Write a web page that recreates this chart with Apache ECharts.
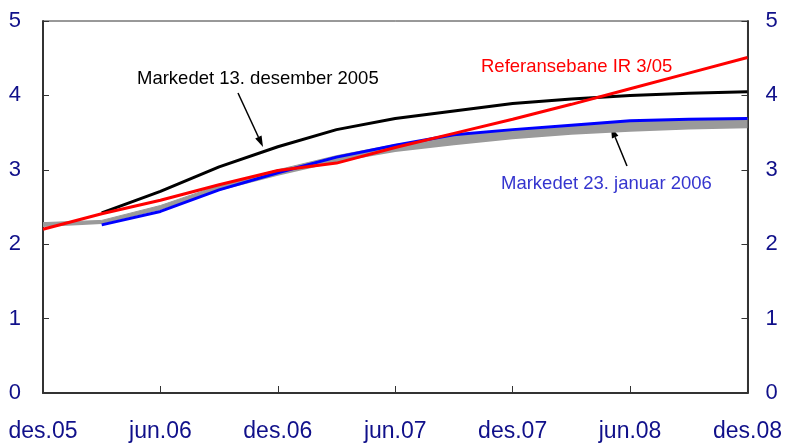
<!DOCTYPE html>
<html>
<head>
<meta charset="utf-8">
<script src="https://cdn.jsdelivr.net/npm/echarts@6/dist/echarts.min.js"></script>
<style>
  html, body { margin: 0; padding: 0; background: #fff; }
  #chart { width: 785px; height: 443px; }
</style>
</head>
<body>
<div id="chart"></div>
<script>
  // kvartalsvise observasjoner
  var categories = ['des.05', 'mar.06', 'jun.06', 'sep.06', 'des.06', 'mar.07', 'jun.07',
    'sep.07', 'des.07', 'mar.08', 'jun.08', 'sep.08', 'des.08'];
  var yTicks = [0, 1, 2, 3, 4, 5];

  var referansebane = [2.20, 2.41, 2.59, 2.80, 2.99, 3.09, 3.30, 3.49, 3.68, 3.88, 4.09, 4.30, 4.51];
  var marked13des = [null, 2.42, 2.71, 3.04, 3.31, 3.54, 3.69, 3.79, 3.89, 3.95, 4.00, 4.03, 4.05];
  var marked23jan = [null, 2.26, 2.44, 2.73, 2.96, 3.17, 3.33, 3.47, 3.54, 3.60, 3.66, 3.68, 3.69];
  var grayLow = [2.23, 2.27, 2.46, 2.72, 2.92, 3.10, 3.24, 3.33, 3.41, 3.47, 3.51, 3.54, 3.56];
  var grayHigh = [2.29, 2.32, 2.52, 2.79, 3.00, 3.19, 3.34, 3.46, 3.54, 3.60, 3.65, 3.67, 3.69];

  var grayDiff = grayHigh.map(function (v, i) { return +(v - grayLow[i]).toFixed(3); });

  var labelColor = '#10108a';
  var axisColor = '#333';
  var font = '"Liberation Sans", Arial, sans-serif';

  // pil: linje + trekant ved spissen
  function arrow(x1, y1, x2, y2) {
    var ang = Math.atan2(y2 - y1, x2 - x1);
    var len = 11, half = 3.5;
    var bx = x2 - len * Math.cos(ang), by = y2 - len * Math.sin(ang);
    var px = -Math.sin(ang) * half, py = Math.cos(ang) * half;
    return [
      { type: 'line', shape: { x1: x1, y1: y1, x2: bx, y2: by }, style: { stroke: '#000', lineWidth: 1.5 } },
      { type: 'polygon', shape: { points: [[x2, y2], [bx + px, by + py], [bx - px, by - py]] }, style: { fill: '#000' } }
    ];
  }

  var yAxisBase = {
    type: 'value',
    min: 0,
    max: 5,
    interval: 1,
    splitLine: { show: false },
    axisLine: { show: true, lineStyle: { color: axisColor, width: 2 } },
    axisTick: { show: true, inside: true, length: 6, lineStyle: { color: axisColor } },
    axisLabel: { color: labelColor, fontSize: 22, fontFamily: font }
  };

  var option = {
    animation: false,
    grid: { left: 43, right: 37, top: 21, bottom: 50, show: true, borderColor: axisColor, borderWidth: 1 },
    xAxis: {
      type: 'category',
      data: categories,
      boundaryGap: false,
      axisLine: { lineStyle: { color: axisColor, width: 2 } },
      axisTick: { inside: true, length: 7, interval: 1, lineStyle: { color: axisColor } },
      axisLabel: {
        interval: 1,
        color: labelColor,
        fontSize: 23,
        margin: 27,
        fontFamily: font
      }
    },
    yAxis: [
      Object.assign({}, yAxisBase, { position: 'left', axisLabel: Object.assign({}, yAxisBase.axisLabel, { margin: 22 }) }),
      Object.assign({}, yAxisBase, { position: 'right', axisLabel: Object.assign({}, yAxisBase.axisLabel, { margin: 18 }) })
    ],
    series: [
      {
        name: 'bandLow',
        type: 'line',
        stack: 'band',
        data: grayLow,
        symbol: 'none',
        lineStyle: { opacity: 0 },
        silent: true
      },
      {
        name: 'band',
        type: 'line',
        stack: 'band',
        data: grayDiff,
        symbol: 'none',
        lineStyle: { color: '#9a9a9a', width: 1 },
        areaStyle: { color: '#9a9a9a', opacity: 1 },
        silent: true
      },
      {
        name: 'Markedet 23. januar 2006',
        type: 'line',
        data: marked23jan,
        symbol: 'none',
        lineStyle: { color: '#0000ff', width: 3 }
      },
      {
        name: 'Markedet 13. desember 2005',
        type: 'line',
        data: marked13des,
        symbol: 'none',
        lineStyle: { color: '#000', width: 3 }
      },
      {
        name: 'Referansebane IR 3/05',
        type: 'line',
        data: referansebane,
        symbol: 'none',
        lineStyle: { color: '#ff0000', width: 3 }
      }
    ],
    graphic: [
      { type: 'text', left: 137, top: 69, style: { text: 'Markedet 13. desember 2005', fill: '#000', font: '18.5px ' + font } },
      { type: 'text', left: 481, top: 57, style: { text: 'Referansebane IR 3/05', fill: '#ff0000', font: '18.5px ' + font } },
      { type: 'text', left: 501, top: 174, style: { text: 'Markedet 23. januar 2006', fill: '#3535cf', font: '18.5px ' + font } }
    ].concat(arrow(238, 93, 263, 147), arrow(627, 166, 611, 127))
  };

  var myChart = echarts.init(document.getElementById('chart'));
  myChart.setOption(option);
</script>
</body>
</html>
